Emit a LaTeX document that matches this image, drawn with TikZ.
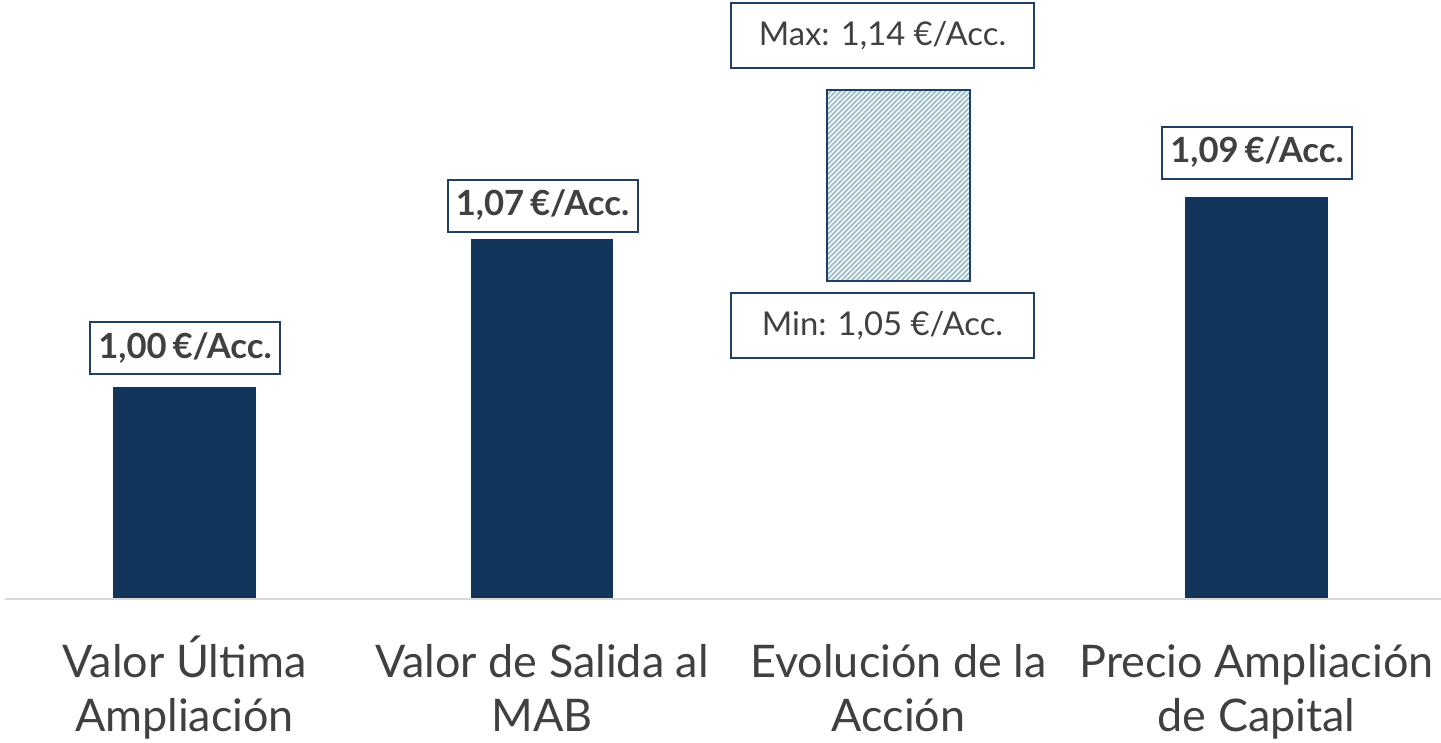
\documentclass[tikz,border=0pt]{standalone}
\usepackage{fontspec}
\setmainfont{Lato}
\definecolor{navy}{HTML}{12355B}
\definecolor{boxline}{HTML}{1F3F66}
\definecolor{txt}{HTML}{404040}
\definecolor{hatch}{HTML}{A3C2CE}
\definecolor{axisgray}{HTML}{D9D9D9}
\tikzset{
  bar/.style={fill=navy, draw=none},
  valbox/.style={draw=boxline, line width=1.5pt, fill=white, text=txt, inner sep=0pt, minimum width=190*0.75pt, minimum height=52*0.75pt, font=\fontsize{26}{30}\selectfont\bfseries},
  rangebox/.style={draw=boxline, line width=1.5pt, fill=white, text=txt, inner sep=0pt, minimum width=303*0.75pt, minimum height=65*0.75pt, font=\fontsize{24.6}{30}\selectfont},
  cat/.style={text=txt, inner sep=0pt, font=\fontsize{33.7}{40}\selectfont, anchor=base},
  hatchline/.style={hatch, line width=1.5pt}
}
\begin{document}
\begin{tikzpicture}[x=0.75pt, y=-0.75pt]
\useasboundingbox (0,0) rectangle (1441,742);
% axis
\draw[axisgray, line width=1.5pt] (5,598.5) -- (1441,598.5);
% bars
\path[bar] (113,387) rectangle (256,598);
\path[bar] (471,239) rectangle (613,598);
\path[bar] (1185,197) rectangle (1328,598);
% hatched range bar
\begin{scope}
\clip (827,90) rectangle (970,281);
\foreach \i in {0,5,...,340}{
  \draw[hatchline] (827-191+\i,281) -- (827+\i,90);
}
\end{scope}
\draw[boxline, line width=1.5pt] (827,90) rectangle (970,281);
% value boxes
\node[valbox] (v1) at (185,348) {1,00\,€/Acc.};
\node[valbox] (v2) at (542.5,205.5) {1,07\,€/Acc.};
\node[valbox] (v4) at (1257,152.5) {1,09\,€/Acc.};
\node[rangebox] (vmax) at (882.5,35.5) {Max: 1,14 €/Acc.};
\node[rangebox] (vmin) at (882.5,325.5) {Min: 1,05 €/Acc.};
% categories
\node[cat] (c1a) at (184.5,677) {Valor Última};
\node[cat] (c1b) at (184.5,731) {Ampliación};
\node[cat] (c2a) at (542,677) {Valor de Salida al};
\node[cat] (c2b) at (542,731) {MAB};
\node[cat] (c3a) at (898.5,677) {Evolución de la};
\node[cat] (c3b) at (898.5,731) {Acción};
\node[cat] (c4a) at (1256.5,677) {Precio Ampliación};
\node[cat] (c4b) at (1256.5,731) {de Capital};
\end{tikzpicture}
\end{document}
